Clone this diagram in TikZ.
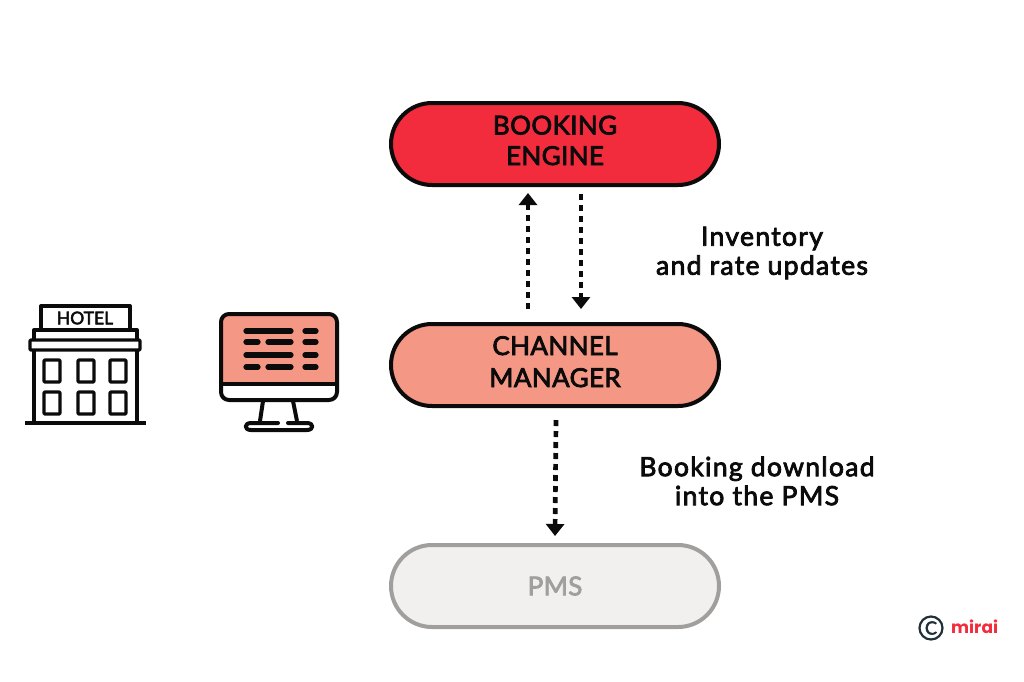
\documentclass[tikz,border=0pt]{standalone}
\usepackage{fontspec}
\setmainfont{Lato}[FakeBold=3]
\newfontfamily\labelfont{Lato}[FakeBold=3,LetterSpace=5]
\newfontfamily\boxfont{Lato}[FakeBold=3,LetterSpace=1.5]
\newfontfamily\logofont{Poppins}
\usetikzlibrary{arrows.meta,shapes.misc,calc}
\definecolor{ink}{HTML}{0B0B0B}
\definecolor{enginered}{HTML}{F22C3D}
\definecolor{salmon}{HTML}{F49885}
\definecolor{palegrey}{HTML}{F1F0EE}
\definecolor{midgrey}{HTML}{A19F9D}
\definecolor{logodark}{HTML}{1F3038}
\tikzset{
  x=1pt,y=-1pt,
  pill/.style={draw=ink,line width=4pt,rounded rectangle,minimum width=328pt,minimum height=82pt,
    inner sep=0pt,align=center,text=ink,font=\boxfont\fontsize{26}{29}\selectfont},
  flow/.style={draw=ink,line width=4.7pt,dash pattern=on 6pt off 5pt,
    -{Triangle[width=18pt,length=12pt]}},
  caption/.style={align=center,text=ink,inner sep=0pt,font=\labelfont\fontsize{26.5}{29}\selectfont},
  iconline/.style={draw=ink,line width=3.4pt,line join=round},
  bar/.style={draw=ink,line width=5.2pt,line cap=round},
}
\begin{document}
\begin{tikzpicture}
\useasboundingbox (0,0) rectangle (1024,681);

% process boxes
\node[pill,fill=enginered] (engine) at (555,144) {\raisebox{-21pt}[30pt][30pt]{\shortstack[c]{\strut BOOKING\\[-1.5pt]\strut ENGINE}}};
\node[pill,fill=salmon] (manager) at (555,365) {\raisebox{-22pt}[30pt][30pt]{\shortstack[c]{\strut CHANNEL\\[0pt]\strut MANAGER}}};
\node[pill,fill=palegrey,draw=midgrey,text=midgrey] (pms) at (555,586) {PMS};

% connector ends between the boxes
\coordinate (upstart) at ($(manager.north)+(-27,-13)$);
\coordinate (upend) at ($(engine.south)+(-27,6)$);
\coordinate (downstart) at ($(engine.south)+(26,7)$);
\coordinate (downend) at ($(manager.north)+(26,-13)$);
\coordinate (pmsstart) at ($(manager.south)+(1,12)$);
\coordinate (pmsend) at ($(pms.north)+(0,-7)$);
\draw[flow] (upstart) -- (upend);
\draw[flow] (downstart) -- (downend);
\draw[flow] (pmsstart) -- (pmsend);

% captions
\node[caption] (updates) at (762,253) {Inventory\\and rate updates};
\node[caption] (download) at (757,481) {Booking download\\into the PMS};

% hotel building
\draw[iconline] (34,351) -- (34,423) (137,351) -- (137,423);
\draw[iconline] (25,423) -- (146,423);
\draw[iconline,rounded corners=1pt] (30,340) rectangle (140,350);
\draw[iconline] (34,340) -- (34,330) -- (137,330) -- (137,340);
\draw[iconline] (41,330) -- (41,306) -- (130,306) -- (130,330);
\node[inner sep=0pt,text=ink,font=\fontsize{17.5}{18}\selectfont] (hotelsign) at (85,318) {HOTEL};
\foreach \wx in {44,78,110}
  \foreach \wy in {360,392}
    \draw[iconline,rounded corners=1pt] (\wx,\wy) rectangle ++(16,22);

% desktop monitor
\fill[salmon,rounded corners=7pt] (221,314) -- (337,314) -- (337,384) -- (221,384) -- cycle;
\draw[iconline,line width=4pt,rounded corners=8pt] (221,314) rectangle (337,400);
\draw[iconline,line width=4pt] (221,384) -- (337,384);
\draw[iconline,line width=4pt] (263,401) -- (260,421);
\draw[iconline,line width=4pt] (293,401) -- (297,421);
\draw[iconline,line width=4pt,line cap=round]
  (278,423) -- (251,423) .. controls (244,423) and (244,430) .. (251,430) -- (307,430)
  .. controls (314,430) and (314,423) .. (307,423) -- (288,423);
\foreach \ya/\yb in {331/342,355/367}{
  \draw[bar] (246,\ya) -- (291,\ya);
  \draw[bar] (305,\ya) -- (316,\ya);
  \draw[bar] (246,\yb) -- (258,\yb);
  \draw[bar] (268,\yb) -- (291,\yb);
  \draw[bar] (305,\yb) -- (316,\yb);
}

% logo
\node[draw=logodark,circle,line width=2.2pt,minimum size=23pt,inner sep=0pt,text=logodark,
  font=\fontsize{18}{18}\selectfont] (copyright) at (931,628) {C};
\node[inner sep=0pt,anchor=west,text=enginered,font=\logofont\fontsize{17}{18}\selectfont\bfseries] (mirai) at (951,627) {mirai};
\end{tikzpicture}
\end{document}
